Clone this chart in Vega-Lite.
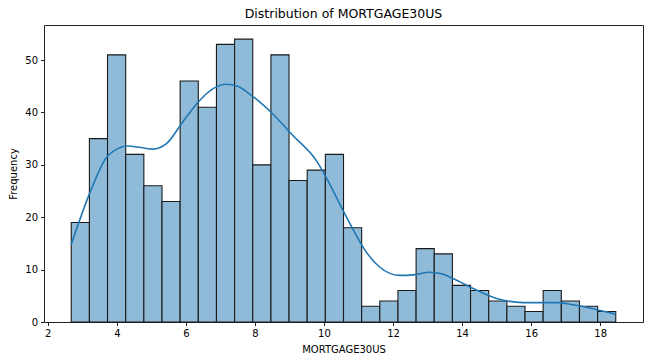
{
  "$schema": "https://vega.github.io/schema/vega-lite/v6.json",
  "width": 599,
  "height": 297,
  "autosize": {"type": "none"},
  "padding": {"left": 44, "top": 25, "right": 7, "bottom": 41},
  "background": "white",
  "title": {"text": "Distribution of MORTGAGE30US", "fontSize": 12.5, "fontWeight": "normal", "font": "DejaVu Sans", "color": "black", "offset": 5},
  "config": {
    "view": {"stroke": "#222", "strokeWidth": 1},
    "axis": {"grid": false, "domain": false, "tickColor": "#222", "tickSize": 3.5, "labelColor": "black", "labelFont": "DejaVu Sans", "labelFontSize": 10, "titleFont": "DejaVu Sans", "titleFontSize": 10, "titleFontWeight": "normal", "titleColor": "black", "labelPadding": 3}
  },
  "datasets": {
    "bins": [
      {"start": 2.680, "end": 3.206, "count": 19},
      {"start": 3.206, "end": 3.731, "count": 35},
      {"start": 3.731, "end": 4.257, "count": 51},
      {"start": 4.257, "end": 4.783, "count": 32},
      {"start": 4.783, "end": 5.309, "count": 26},
      {"start": 5.309, "end": 5.834, "count": 23},
      {"start": 5.834, "end": 6.360, "count": 46},
      {"start": 6.360, "end": 6.886, "count": 41},
      {"start": 6.886, "end": 7.411, "count": 53},
      {"start": 7.411, "end": 7.937, "count": 54},
      {"start": 7.937, "end": 8.463, "count": 30},
      {"start": 8.463, "end": 8.988, "count": 51},
      {"start": 8.988, "end": 9.514, "count": 27},
      {"start": 9.514, "end": 10.040, "count": 29},
      {"start": 10.040, "end": 10.566, "count": 32},
      {"start": 10.566, "end": 11.091, "count": 18},
      {"start": 11.091, "end": 11.617, "count": 3},
      {"start": 11.617, "end": 12.143, "count": 4},
      {"start": 12.143, "end": 12.668, "count": 6},
      {"start": 12.668, "end": 13.194, "count": 14},
      {"start": 13.194, "end": 13.720, "count": 13},
      {"start": 13.720, "end": 14.245, "count": 7},
      {"start": 14.245, "end": 14.771, "count": 6},
      {"start": 14.771, "end": 15.297, "count": 4},
      {"start": 15.297, "end": 15.823, "count": 3},
      {"start": 15.823, "end": 16.348, "count": 2},
      {"start": 16.348, "end": 16.874, "count": 6},
      {"start": 16.874, "end": 17.400, "count": 4},
      {"start": 17.400, "end": 17.925, "count": 3},
      {"start": 17.925, "end": 18.451, "count": 2}
    ],
    "kde": [
      {"x": 2.68, "y": 14.8},
      {"x": 3.21, "y": 24.5},
      {"x": 3.69, "y": 31.3},
      {"x": 4.0, "y": 33.0},
      {"x": 4.3, "y": 33.6},
      {"x": 4.7, "y": 33.3},
      {"x": 5.04, "y": 33.0},
      {"x": 5.43, "y": 34.0},
      {"x": 5.91, "y": 38.2},
      {"x": 6.40, "y": 42.3},
      {"x": 6.8, "y": 44.6},
      {"x": 7.17, "y": 45.4},
      {"x": 7.5, "y": 45.0},
      {"x": 7.85, "y": 43.5},
      {"x": 8.52, "y": 39.7},
      {"x": 9.1, "y": 35.6},
      {"x": 9.78, "y": 30.8},
      {"x": 10.2, "y": 25.9},
      {"x": 10.55, "y": 21.3},
      {"x": 10.85, "y": 17.6},
      {"x": 11.13, "y": 14.3},
      {"x": 11.61, "y": 10.5},
      {"x": 12.19, "y": 8.9},
      {"x": 12.6, "y": 9.0},
      {"x": 13.06, "y": 9.5},
      {"x": 13.4, "y": 9.2},
      {"x": 13.74, "y": 8.3},
      {"x": 14.32, "y": 6.4},
      {"x": 15.0, "y": 4.5},
      {"x": 15.77, "y": 3.7},
      {"x": 16.3, "y": 3.7},
      {"x": 16.74, "y": 3.7},
      {"x": 17.2, "y": 3.3},
      {"x": 17.6, "y": 2.8},
      {"x": 18.0, "y": 2.2},
      {"x": 18.45, "y": 1.5}
    ]
  },
  "layer": [
    {
      "data": {"name": "bins"},
      "mark": {"type": "rect", "fill": "#8fbbd9", "stroke": "#1a1a1a", "strokeWidth": 1.1},
      "encoding": {
        "x": {"field": "start", "type": "quantitative", "scale": {"domain": [1.891, 19.24], "nice": false, "zero": false}, "axis": {"values": [2, 4, 6, 8, 10, 12, 14, 16, 18], "title": "MORTGAGE30US", "titlePadding": 6}},
        "x2": {"field": "end"},
        "y": {"field": "count", "type": "quantitative", "scale": {"domain": [0, 56.7], "nice": false, "zero": true}, "axis": {"values": [0, 10, 20, 30, 40, 50], "title": "Frequency", "titlePadding": 6}},
        "y2": {"datum": 0}
      }
    },
    {
      "data": {"name": "kde"},
      "mark": {"type": "line", "color": "#1f77b4", "strokeWidth": 1.6, "interpolate": "monotone"},
      "encoding": {
        "x": {"field": "x", "type": "quantitative"},
        "y": {"field": "y", "type": "quantitative"}
      }
    }
  ]
}
